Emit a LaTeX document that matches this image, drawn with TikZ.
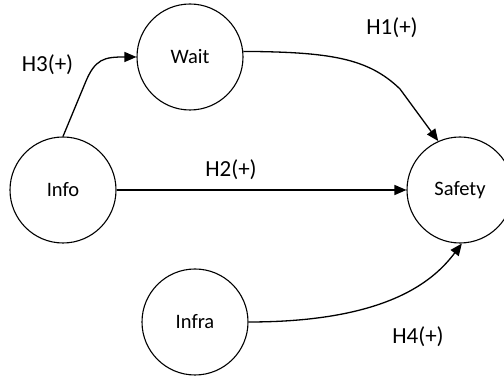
\documentclass[tikz,border=0pt]{standalone}
\usepackage{fontspec}
\setmainfont{Carlito}
\usetikzlibrary{arrows.meta,calc}
\begin{document}
\begin{tikzpicture}[x=1pt,y=1pt,
  var/.style={draw, circle, line width=1.1pt, minimum size=106pt, inner sep=0pt, font=\fontsize{20.5}{24}\selectfont},
  conn/.style={line width=1.3pt, -{Triangle[length=12pt,width=10pt]}},
  hyp/.style={font=\fontsize{23}{27}\selectfont}]
\clip (0,0) rectangle (504,379);
\useasboundingbox (0,0) rectangle (504,379);
\node[var] (wait) at (190,322) {Wait};
\node[var] (info) at (63,189) {Info};
\node[var] (safety) at (460,189) {Safety};
\node[var] (infra) at (195,57) {Infra};
\draw[conn] (info.north) -- ($(info.north)+(22,53)$) .. controls ($(info.north)+(32,78)$) and ($(wait.west)+(-32,0)$) .. (wait.west);
\draw[conn] (wait.6) .. controls (330,327) and (368,321) .. (400,290) -- (safety.114);
\draw[conn] (info.east) -- (safety.west);
\draw[conn] (infra.east) .. controls (390,57) and (435,100) .. (safety.-88);
\node[hyp] (h1) at (392,351) {H1(+)};
\node[hyp] (h2) at (231,209) {H2(+)};
\node[hyp] (h3) at (47.5,314) {H3(+)};
\node[hyp] (h4) at (418,42) {H4(+)};
\end{tikzpicture}
\end{document}
